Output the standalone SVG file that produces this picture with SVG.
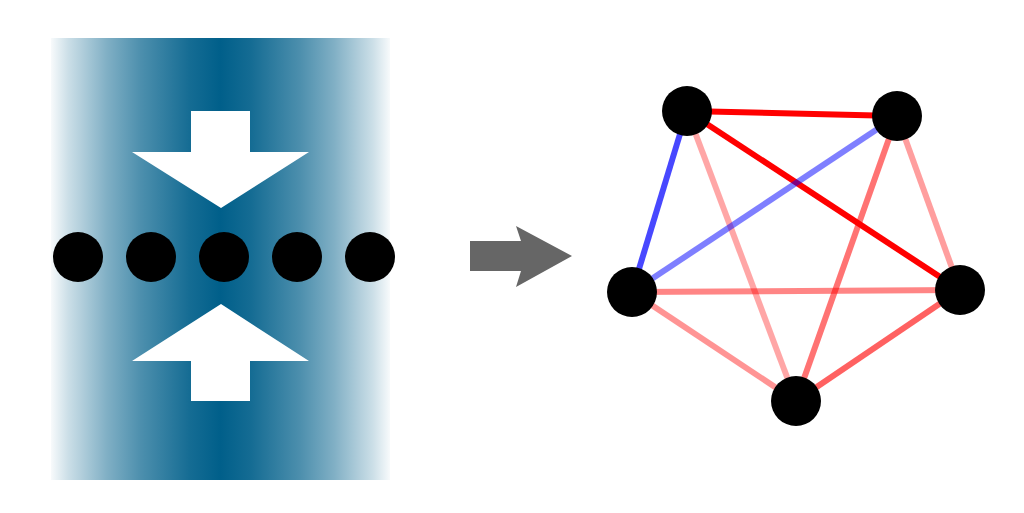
<svg xmlns="http://www.w3.org/2000/svg" width="1024" height="513" viewBox="0 0 1024 513">
<style>
.dot{fill:#000}
.w{fill:#fff}
.e{stroke-width:6;fill:none}
</style>
<defs>
<linearGradient id="g" x1="0" x2="1" y1="0" y2="0">
<stop offset="0" stop-color="#005f8a" stop-opacity="0.03"/>
<stop offset="0.05" stop-color="#005f8a" stop-opacity="0.2"/>
<stop offset="0.166" stop-color="#005f8a" stop-opacity="0.5"/>
<stop offset="0.265" stop-color="#005f8a" stop-opacity="0.7"/>
<stop offset="0.41" stop-color="#005f8a" stop-opacity="0.92"/>
<stop offset="0.5" stop-color="#005f8a"/>
<stop offset="0.59" stop-color="#005f8a" stop-opacity="0.92"/>
<stop offset="0.735" stop-color="#005f8a" stop-opacity="0.7"/>
<stop offset="0.834" stop-color="#005f8a" stop-opacity="0.5"/>
<stop offset="0.95" stop-color="#005f8a" stop-opacity="0.2"/>
<stop offset="1" stop-color="#005f8a" stop-opacity="0.03"/>
</linearGradient>
</defs>
<rect id="band" x="51" y="38" width="339" height="442" fill="url(#g)"/>
<g id="arrow-top"><path class="w" d="M191 111H250V152H309L221 208L132 152H191Z"/></g>
<g id="arrow-bottom"><path class="w" d="M191 401H250V361H309L221 304L132 361H191Z"/></g>
<g id="left-1"><circle class="dot" cx="78" cy="257" r="25"/></g>
<g id="left-2"><circle class="dot" cx="151" cy="257" r="25"/></g>
<g id="left-3"><circle class="dot" cx="224" cy="257" r="25"/></g>
<g id="left-4"><circle class="dot" cx="297" cy="257" r="25"/></g>
<g id="left-5"><circle class="dot" cx="370" cy="257" r="25"/></g>
<g id="big-arrow"><path fill="#666" d="M470 241H521L516 226L572 256L516 287L521 271H470Z"/></g>
<g id="connectors">
<line class="e" x1="687" y1="111" x2="897" y2="116" stroke="#f00"/>
<line class="e" x1="687" y1="111" x2="960" y2="290" stroke="#f00"/>
<line class="e" x1="687" y1="111" x2="632" y2="292" stroke="#4848ff"/>
<line class="e" x1="687" y1="111" x2="796" y2="401" stroke="#f00" stroke-opacity="0.35"/>
<line class="e" x1="897" y1="116" x2="632" y2="292" stroke="#00f" stroke-opacity="0.5"/>
<line class="e" x1="897" y1="116" x2="796" y2="401" stroke="#f00" stroke-opacity="0.55"/>
<line class="e" x1="897" y1="116" x2="960" y2="290" stroke="#f00" stroke-opacity="0.38"/>
<line class="e" x1="632" y1="292" x2="960" y2="290" stroke="#f00" stroke-opacity="0.48"/>
<line class="e" x1="632" y1="292" x2="796" y2="401" stroke="#f00" stroke-opacity="0.42"/>
<line class="e" x1="960" y1="290" x2="796" y2="401" stroke="#f00" stroke-opacity="0.62"/>
</g>
<g id="node-a"><circle class="dot" cx="687" cy="111" r="25"/></g>
<g id="node-b"><circle class="dot" cx="897" cy="116" r="25"/></g>
<g id="node-c"><circle class="dot" cx="632" cy="292" r="25"/></g>
<g id="node-d"><circle class="dot" cx="960" cy="290" r="25"/></g>
<g id="node-e"><circle class="dot" cx="796" cy="401" r="25"/></g>
</svg>
